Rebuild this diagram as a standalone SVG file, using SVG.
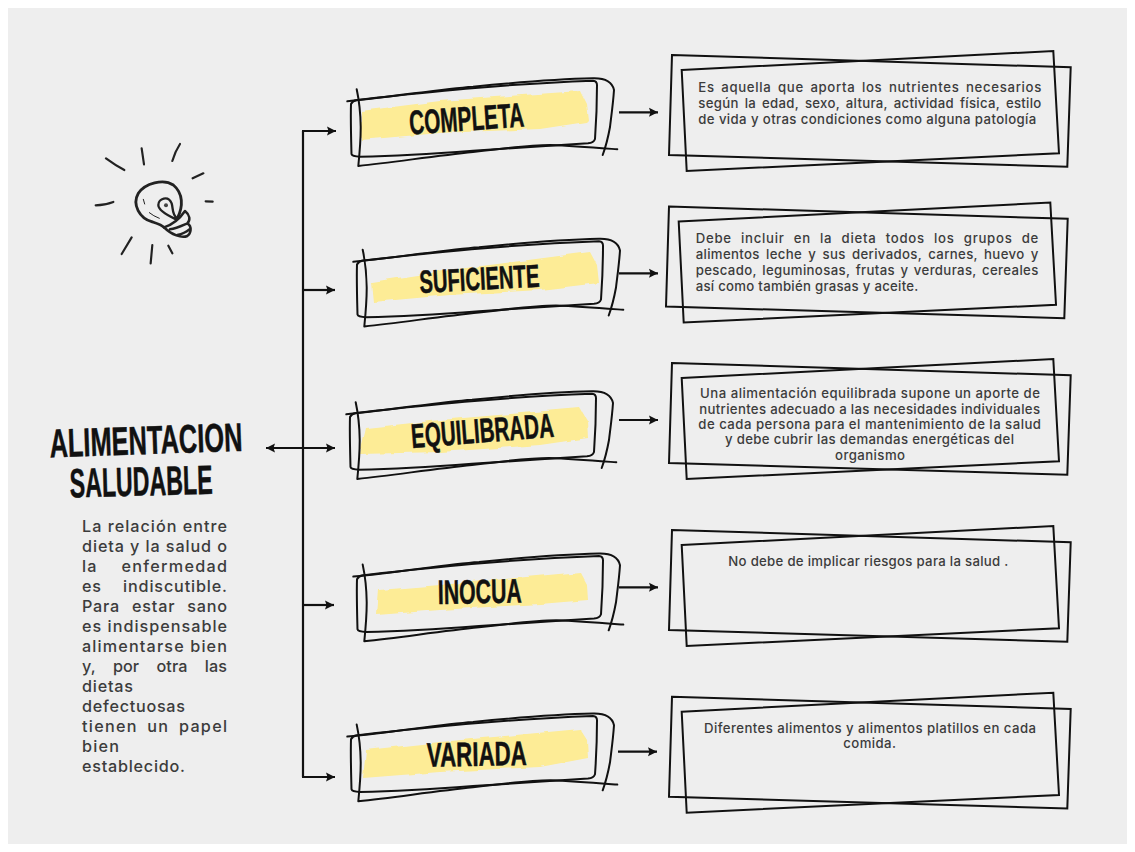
<svg xmlns="http://www.w3.org/2000/svg" xmlns:xlink="http://www.w3.org/1999/xlink" width="1135" height="852" viewBox="0 0 1135 852">
<style>
.sk{fill:none;stroke:#111;stroke-width:2;stroke-linecap:round;stroke-linejoin:round}
.bx{fill:none;stroke:#111;stroke-width:2;stroke-linejoin:miter}
.hl{fill:#fdec96;filter:url(#rough)}
.lab{font-family:"Liberation Sans Narrow","Liberation Sans",sans-serif;font-weight:700;fill:#111;stroke:#111;stroke-width:.5;stroke-linejoin:round}
.t{font-family:Inter,"Open Sans","Noto Sans",sans-serif;font-weight:500;font-size:13.2px;fill:#3c3c3c}
.b{font-family:Inter,"Open Sans","Noto Sans",sans-serif;font-weight:500;font-size:16.2px;fill:#3c3c3c}
.ar{fill:none;stroke:#111;stroke-width:2.2}
.bulb{fill:none;stroke:#222;stroke-width:8.5;stroke-linecap:round;stroke-linejoin:round}
</style>
<defs>
<filter id="rough" x="-5%" y="-20%" width="110%" height="140%"><feTurbulence type="fractalNoise" baseFrequency="0.06" numOctaves="2" seed="4"/><feDisplacementMap in="SourceGraphic" scale="5"/></filter>
<marker id="ah" markerUnits="userSpaceOnUse" markerWidth="11" markerHeight="11" refX="9" refY="5.5" orient="auto-start-reverse"><path d="M0 1L9 5.5L0 10L1.5 5.5Z" fill="#111"/></marker>
<g id="frame"><path class="bx" d="M672 55L1070.7 67.3L1067.3 166.7L669 155Z"/><path class="bx" d="M681.7 70L1053.3 51L1059 153.3L686.7 171Z"/></g>
<g id="sketch">
<path class="sk" d="M347.3 101.3C400 96 440 89 473 86.7C520 82 560 79 593 78.3C604 78 612 81 614 90C613 105 611 118 610 127C608 138 606 146 602.7 155"/>
<path class="sk" d="M357 100C420 93 500 84 593 80.7C596 81 597 82 597 85C597 105 596 125 595 139C594 142 591 143 588 143.3C550 146 510 148 473 150.7C430 154 395 156 360 156.7C355 156.5 352 156 351.5 154C351 135 350.5 118 351 104C352 102 354 100.5 357 100Z"/>
<path class="sk" d="M356.7 89.3C359 100 360.5 112 360.7 126.7C360.8 140 359.5 154 358.3 166C395 162 435 156 473 152C505 148 530 145 550 145C575 146 600 148 617.3 149.3"/>
</g>
</defs>
<rect width="1135" height="852" fill="#fff"/>
<rect x="8" y="8" width="1119" height="836" fill="#eeeeee"/>

<g id="idea">
<g transform="translate(90 130) scale(.3333)">
<path class="bulb" style="stroke-width:6.5" d="M48 85Q75 105 103 120M155 55L162 103M270 42Q255 65 247 93M340 130L308 145M347 214L368 215M17 226Q45 226 70 216M125 322L95 372M187 345L182 400M235 347L247 370"/>
<path class="bulb" d="M262 265C280 230 280 190 250 165C220 145 165 160 145 190C125 225 150 265 185 275C205 282 215 285 222 292"/>
<path class="bulb" d="M258 268C230 255 205 240 205 225C205 205 235 195 245 220C250 235 245 255 262 265" style="stroke-width:7"/>
<path class="bulb" d="M222 292C245 285 270 265 285 243C300 255 302 270 292 280C308 290 302 312 292 318C275 325 245 315 222 292M240 298C260 295 280 285 292 280M262 315C275 312 290 305 298 298" style="stroke-width:7.5"/>
<path class="bulb" d="M160 208L164 222M178 248Q190 258 208 265" style="stroke-width:3"/>
<circle cx="228" cy="226" r="6" fill="#444"/>
</g>
</g>

<g id="titulo">
<text class="lab" font-size="40" transform="translate(50 457.5) rotate(-2)" textLength="193" lengthAdjust="spacingAndGlyphs">ALIMENTACION</text>
<text class="lab" font-size="41" transform="translate(70 497.5) rotate(-1.5)" textLength="143" lengthAdjust="spacingAndGlyphs">SALUDABLE</text>
<text class="b" x="82" y="532.3" textLength="145">La relación entre</text>
<text class="b" x="82" y="552.3" textLength="145">dieta y la salud o</text>
<text class="b" x="82" y="572.3" textLength="145" word-spacing="18">la enfermedad</text>
<text class="b" x="82" y="592.3" textLength="145" word-spacing="16">es indiscutible.</text>
<text class="b" x="82" y="612.3" textLength="145" word-spacing="7">Para estar sano</text>
<text class="b" x="82" y="632.3" textLength="145">es indispensable</text>
<text class="b" x="82" y="652.3" textLength="145">alimentarse bien</text>
<text class="b" x="82" y="672.3" textLength="145" word-spacing="13">y, por otra las</text>
<text class="b" x="82" y="692.3" textLength="51">dietas</text>
<text class="b" x="82" y="712.3" textLength="103">defectuosas</text>
<text class="b" x="82" y="732.3" textLength="145" word-spacing="4">tienen un papel</text>
<text class="b" x="82" y="752.3" textLength="37">bien</text>
<text class="b" x="82" y="772.3" textLength="103">establecido.</text>
</g>

<g id="connectors">
<path class="ar" d="M303 131V777"/>
<path class="ar" d="M302 131H336" marker-end="url(#ah)"/>
<path class="ar" d="M303 290H335" marker-end="url(#ah)"/>
<path class="ar" d="M266 448H335" marker-start="url(#ah)" marker-end="url(#ah)"/>
<path class="ar" d="M303 605H334" marker-end="url(#ah)"/>
<path class="ar" d="M302 777H335" marker-end="url(#ah)"/>
<path class="ar" d="M619 112.3H658" marker-end="url(#ah)"/>
<path class="ar" d="M619 273.3H658" marker-end="url(#ah)"/>
<path class="ar" d="M619 420H658" marker-end="url(#ah)"/>
<path class="ar" d="M619 587.3H658" marker-end="url(#ah)"/>
<path class="ar" d="M618 751.7H657" marker-end="url(#ah)"/>
</g>

<g id="completa">
<path class="hl" d="M361 111L440 101L580 91L586 103L588 120L586 122L540 129L440 133L361 140Z"/>
<use href="#sketch"/>
<text class="lab" font-size="34" transform="translate(410 134.5) rotate(-4)" textLength="115" lengthAdjust="spacingAndGlyphs">COMPLETA</text>
</g>
<g id="suficiente">
<path class="hl" d="M371 282L450 270L590 252L597 265L599 283L540 290L450 295L373 302Z"/>
<use href="#sketch" transform="translate(6 160.5)"/>
<text class="lab" font-size="32" transform="translate(420 293) rotate(-3)" textLength="120" lengthAdjust="spacingAndGlyphs">SUFICIENTE</text>
</g>
<g id="equilibrada">
<path class="hl" d="M366 428L440 420L580 408L587 420L588 438L540 445L440 452L360 454Z"/>
<use href="#sketch" transform="translate(-1 313)"/>
<text class="lab" font-size="34" transform="translate(412 448) rotate(-4.5)" textLength="143" lengthAdjust="spacingAndGlyphs">EQUILIBRADA</text>
</g>
<g id="inocua">
<path class="hl" d="M379 590L440 585L580 572L587 585L588 600L540 604L440 610L377 615Z"/>
<use href="#sketch" transform="translate(6 475.3)"/>
<text class="lab" font-size="34" transform="translate(438 604) rotate(-1)" textLength="84" lengthAdjust="spacingAndGlyphs">INOCUA</text>
</g>
<g id="variada">
<path class="hl" d="M366 750L440 742L580 729L587 740L588 758L540 767L440 772L363 778Z"/>
<use href="#sketch" transform="translate(0 635.3)"/>
<text class="lab" font-size="34" transform="translate(427 766.7) rotate(-1)" textLength="100" lengthAdjust="spacingAndGlyphs">VARIADA</text>
</g>

<g id="def-completa">
<use href="#frame"/>
<text class="t" x="698.3" y="91.7" textLength="343" word-spacing="2.4">Es aquella que aporta los nutrientes necesarios</text>
<text class="t" x="698.3" y="107.7" textLength="343" word-spacing="2.2">según la edad, sexo, altura, actividad física, estilo</text>
<text class="t" x="698.3" y="124" textLength="338">de vida y otras condiciones como alguna patología</text>
</g>
<g id="def-suficiente">
<use href="#frame" transform="translate(-3 151.5)"/>
<text class="t" x="695.7" y="243.3" textLength="342.6" word-spacing="5">Debe incluir en la dieta todos los grupos de</text>
<text class="t" x="695.7" y="259.3" textLength="342.6" word-spacing="2.4">alimentos leche y sus derivados, carnes, huevo y</text>
<text class="t" x="695.7" y="275" textLength="342.6" word-spacing="1.6">pescado, leguminosas, frutas y verduras, cereales</text>
<text class="t" x="695.7" y="291" textLength="222.6">así como también grasas y aceite.</text>
</g>
<g id="def-equilibrada">
<use href="#frame" transform="translate(0 308)"/>
<text class="t" x="700" y="398.3" textLength="340">Una alimentación equilibrada supone un aporte de</text>
<text class="t" x="699.3" y="414.3" textLength="340.7">nutrientes adecuado a las necesidades individuales</text>
<text class="t" x="698.3" y="429" textLength="342.7">de cada persona para el mantenimiento de la salud</text>
<text class="t" x="725" y="444.3" textLength="289">y debe cubrir las demandas energéticas del</text>
<text class="t" x="835" y="460" textLength="70">organismo</text>
</g>
<g id="def-inocua">
<use href="#frame" transform="translate(0 475)"/>
<text class="t" x="728.3" y="565.7" textLength="280">No debe de implicar riesgos para la salud .</text>
</g>
<g id="def-variada">
<use href="#frame" transform="translate(0 641.7)"/>
<text class="t" x="704" y="732.7" textLength="332">Diferentes alimentos y alimentos platillos en cada</text>
<text class="t" x="843.3" y="748.3" textLength="52.7">comida.</text>
</g>
</svg>
